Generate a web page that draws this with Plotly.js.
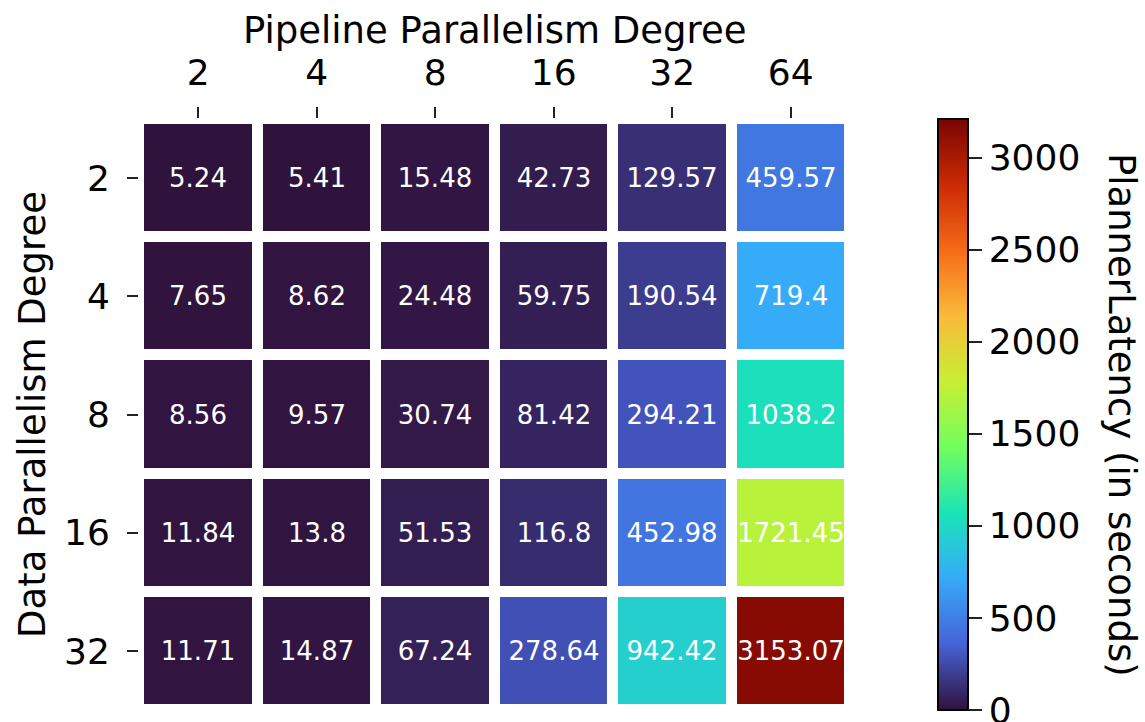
<!DOCTYPE html>
<html>
<head>
<meta charset="utf-8">
<script src="https://cdn.plot.ly/plotly-3.0.1.min.js"></script>
<style>html,body{margin:0;padding:0;background:#fff;}#chart{width:1145px;height:722px;}</style>
</head>
<body>
<div id="chart"></div>
<script>
const pipelineDegrees = ['2', '4', '8', '16', '32', '64'];
const dataDegrees = ['2', '4', '8', '16', '32'];
const rowDP2 = [5.24, 5.41, 15.48, 42.73, 129.57, 459.57];
const rowDP4 = [7.65, 8.62, 24.48, 59.75, 190.54, 719.4];
const rowDP8 = [8.56, 9.57, 30.74, 81.42, 294.21, 1038.2];
const rowDP16 = [11.84, 13.8, 51.53, 116.8, 452.98, 1721.45];
const rowDP32 = [11.71, 14.87, 67.24, 278.64, 942.42, 3153.07];
const colorbarTicks = [0, 500, 1000, 1500, 2000, 2500, 3000];

const z = [rowDP2, rowDP4, rowDP8, rowDP16, rowDP32];
const text = z.map(r => r.map(v => String(v)));

// Turbo colormap anchor colours (10 evenly spaced samples)
const turboAnchors = ['#30123b', '#4662d7', '#36aaf9', '#1ae4b6', '#72fe5e',
                      '#c7ef34', '#faba39', '#f66b19', '#cb2a04', '#7a0403'];
const turboScale = turboAnchors.map((c, i) => [i / (turboAnchors.length - 1), c]);

const FONT = 'DejaVu Sans, sans-serif';

const trace = {
  type: 'heatmap',
  x: pipelineDegrees,
  y: dataDegrees,
  z: z,
  text: text,
  texttemplate: '%{text}',
  textfont: {family: FONT, size: 26, color: 'white'},
  colorscale: turboScale,
  zmin: 0,
  zmax: 3210,
  xgap: 11,
  ygap: 11,
  hoverinfo: 'skip',
  colorbar: {
    x: 1.124, xanchor: 'left', xpad: 0,
    y: 0.5, yanchor: 'middle', ypad: 0,
    len: 1.0, lenmode: 'fraction',
    thickness: 30, thicknessmode: 'pixels',
    outlinewidth: 2, outlinecolor: '#000',
    ticks: 'outside', ticklen: 13, tickwidth: 2, tickcolor: '#222',
    tickvals: colorbarTicks,
    ticklabeloverflow: 'allow',
    tickfont: {family: FONT, size: 36, color: '#000'}
  }
};

const layout = {
  width: 1145, height: 722,
  margin: {l: 139, r: 295, t: 119, b: 12},
  paper_bgcolor: '#fff', plot_bgcolor: '#fff',
  font: {family: FONT, color: '#000'},
  xaxis: {
    side: 'top', type: 'category',
    showgrid: false, zeroline: false, showline: false,
    ticks: 'outside', ticklen: 11, tickwidth: 2, tickcolor: '#222',
    ticklabelstandoff: 8,
    tickfont: {family: FONT, size: 36, color: '#000'}
  },
  yaxis: {
    type: 'category', autorange: 'reversed',
    showgrid: false, zeroline: false, showline: false,
    ticks: 'outside', ticklen: 11, tickwidth: 2, tickcolor: '#222',
    ticklabelstandoff: 10,
    tickfont: {family: FONT, size: 36, color: '#000'},
    title: {text: 'Data Parallelism Degree', font: {family: FONT, size: 37, color: '#000'}, standoff: 7}
  },
  annotations: [{
    text: 'Pipeline Parallelism Degree',
    xref: 'paper', yref: 'paper',
    x: 0.5, y: 1.149, xanchor: 'center', yanchor: 'middle',
    showarrow: false,
    font: {family: FONT, size: 37, color: '#000'}
  }, {
    text: 'PlannerLatency (in seconds)',
    xref: 'paper', yref: 'paper',
    x: 1.382, y: 0.5, xanchor: 'center', yanchor: 'middle',
    textangle: 90, showarrow: false,
    font: {family: FONT, size: 37, color: '#000'}
  }]
};

Plotly.newPlot('chart', [trace], layout, {displayModeBar: false, staticPlot: true});
</script>
</body>
</html>
